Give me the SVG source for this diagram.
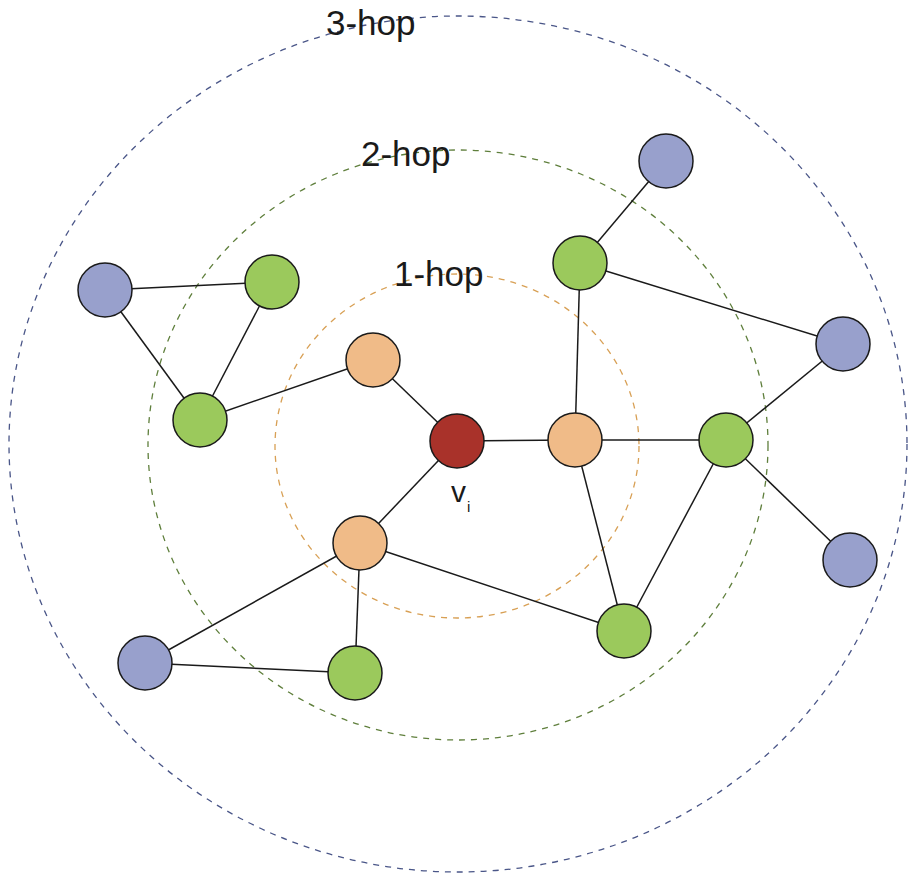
<svg xmlns="http://www.w3.org/2000/svg" width="916" height="882" viewBox="0 0 916 882">
  <style>
    .ring { fill: none; stroke-width: 1.3; stroke-dasharray: 6 6; }
    .edge { stroke: #1a1a1a; stroke-width: 1.5; }
    .node { stroke: #1a1a1a; stroke-width: 1.5; }
    .red { fill: #a9322a; }
    .orange { fill: #f0bb88; }
    .green { fill: #9bc95c; }
    .blue { fill: #98a0cc; }
    .hop { font-family: "Liberation Sans", Arial, sans-serif; font-size: 35px; fill: #1a1a1a; }
    .lbl { font-family: "Liberation Sans", Arial, sans-serif; fill: #1a1a1a; }
  </style>
  <rect width="916" height="882" fill="#ffffff"/>

  <!-- neighbourhood rings -->
  <g id="rings">
    <ellipse class="ring" cx="458" cy="444" rx="449" ry="428" stroke="#4a5688"/>
    <ellipse class="ring" cx="458" cy="445" rx="310" ry="295" stroke="#5f7f3c"/>
    <ellipse class="ring" cx="457" cy="446" rx="182" ry="172" stroke="#d8a055"/>
  </g>

  <g id="ring-labels">
    <text class="hop" x="326" y="35">3-hop</text>
    <text class="hop" x="361" y="166">2-hop</text>
    <text class="hop" x="394" y="286">1-hop</text>
  </g>

  <!-- connectors -->
  <g id="edges">
    <line class="edge" x1="105" y1="290" x2="272" y2="282"/>
    <line class="edge" x1="105" y1="290" x2="200" y2="420"/>
    <line class="edge" x1="272" y1="282" x2="200" y2="420"/>
    <line class="edge" x1="200" y1="420" x2="373" y2="360"/>
    <line class="edge" x1="373" y1="360" x2="457" y2="441"/>
    <line class="edge" x1="457" y1="441" x2="575" y2="440"/>
    <line class="edge" x1="457" y1="441" x2="360" y2="543"/>
    <line class="edge" x1="575" y1="440" x2="580" y2="263"/>
    <line class="edge" x1="575" y1="440" x2="726" y2="440"/>
    <line class="edge" x1="575" y1="440" x2="624" y2="631"/>
    <line class="edge" x1="580" y1="263" x2="666" y2="161"/>
    <line class="edge" x1="580" y1="263" x2="843" y2="344"/>
    <line class="edge" x1="726" y1="440" x2="843" y2="344"/>
    <line class="edge" x1="726" y1="440" x2="850" y2="560"/>
    <line class="edge" x1="726" y1="440" x2="624" y2="631"/>
    <line class="edge" x1="360" y1="543" x2="624" y2="631"/>
    <line class="edge" x1="360" y1="543" x2="355" y2="673"/>
    <line class="edge" x1="360" y1="543" x2="145" y2="663"/>
    <line class="edge" x1="145" y1="663" x2="355" y2="673"/>
  </g>

  <!-- centre node -->
  <g id="vi">
    <circle class="node red" cx="457" cy="441" r="27"/>
    <text class="lbl" x="451" y="502" font-size="30">v</text>
    <text class="lbl" x="467" y="512" font-size="15">i</text>
  </g>

  <!-- 1-hop nodes -->
  <g id="h1a"><circle class="node orange" cx="373" cy="360" r="27"/></g>
  <g id="h1b"><circle class="node orange" cx="575" cy="440" r="27"/></g>
  <g id="h1c"><circle class="node orange" cx="360" cy="543" r="27"/></g>

  <!-- 2-hop nodes -->
  <g id="h2a"><circle class="node green" cx="272" cy="282" r="27"/></g>
  <g id="h2b"><circle class="node green" cx="200" cy="420" r="27"/></g>
  <g id="h2c"><circle class="node green" cx="580" cy="263" r="27"/></g>
  <g id="h2d"><circle class="node green" cx="726" cy="440" r="27"/></g>
  <g id="h2e"><circle class="node green" cx="624" cy="631" r="27"/></g>
  <g id="h2f"><circle class="node green" cx="355" cy="673" r="27"/></g>

  <!-- 3-hop nodes -->
  <g id="h3a"><circle class="node blue" cx="105" cy="290" r="27"/></g>
  <g id="h3b"><circle class="node blue" cx="666" cy="161" r="27"/></g>
  <g id="h3c"><circle class="node blue" cx="843" cy="344" r="27"/></g>
  <g id="h3d"><circle class="node blue" cx="850" cy="560" r="27"/></g>
  <g id="h3e"><circle class="node blue" cx="145" cy="663" r="27"/></g>
</svg>
